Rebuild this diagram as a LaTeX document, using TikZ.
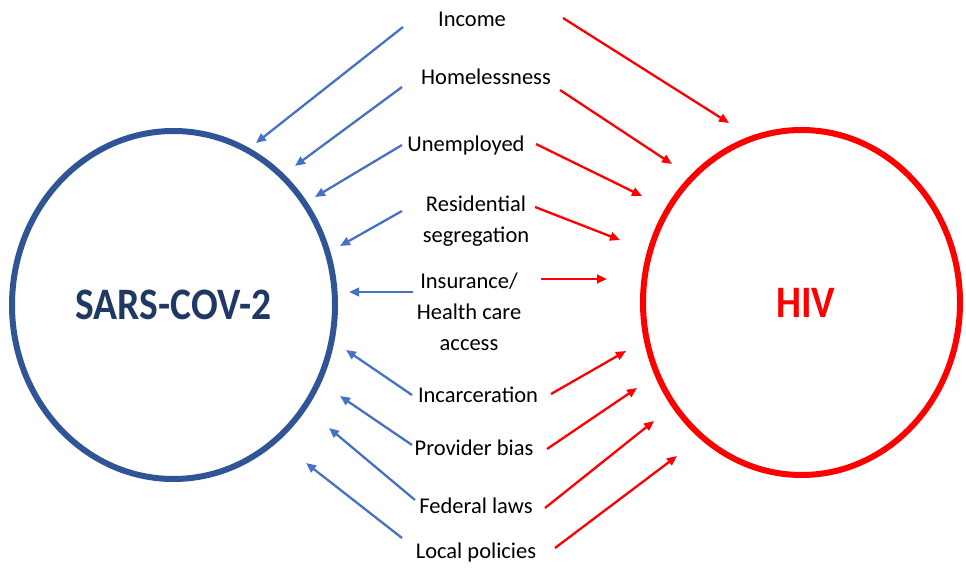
\documentclass[tikz,border=0pt]{standalone}
\usepackage{fontspec}
\setmainfont{Carlito}
\newfontfamily\bigfont[FakeStretch=0.88]{Carlito}
\usetikzlibrary{arrows.meta,shapes.geometric}
\definecolor{sarsblue}{HTML}{2F5597}
\definecolor{arrowblue}{HTML}{4472C4}
\definecolor{sarstext}{HTML}{203864}
\definecolor{hivred}{HTML}{FF0000}
\begin{document}
\begin{tikzpicture}[x=1pt,y=-1pt,
  lbl/.style={font=\fontsize{22.5}{31}\selectfont, align=center, inner sep=0pt, text=black},
  bigcircle/.style={ellipse, line width=6pt, inner sep=0pt},
  bluearr/.style={draw=arrowblue, line width=2.3pt, -{Triangle[length=10pt,width=8.5pt]}},
  redarr/.style={draw=hivred, line width=2.3pt, -{Triangle[length=10pt,width=8.5pt]}}
]
\useasboundingbox (0,0) rectangle (966,569);

% circles
\node[bigcircle, draw=sarsblue, minimum width=323pt, minimum height=348pt,
      text=sarstext, font=\bigfont\bfseries\fontsize{45}{50}\selectfont] (sars) at (173.5,305) {SARS-COV-2};
\node[bigcircle, draw=hivred, minimum width=317pt, minimum height=345pt] (hiv) at (801.5,302.5) {};
\node[text=hivred, font=\bigfont\bfseries\fontsize{45}{50}\selectfont, inner sep=0pt] (hivtext) at (805.5,303) {HIV};

% labels
\node[lbl, anchor=base] (income) at (472,27) {Income};
\node[lbl, anchor=base] (homeless) at (486,85) {Homelessness};
\node[lbl, anchor=base] (unemp) at (466,152) {Unemployed};
\node[lbl] (resid) at (476,221) {Residential\\segregation};
\node[lbl] (insur) at (469,312) {Insurance/\\Health care\\access};
\node[lbl, anchor=base] (incarc) at (478,402) {Incarceration};
\node[lbl, anchor=base] (provider) at (474,455) {Provider bias};
\node[lbl, anchor=base] (federal) at (476,513) {Federal laws};
\node[lbl, anchor=base] (local) at (476,558) {Local policies};

% blue arrow end points
\coordinate (b1s) at (403,27);  \coordinate (b1e) at (256,143);
\coordinate (b2s) at (402,87);  \coordinate (b2e) at (295,166);
\coordinate (b3s) at (402,145); \coordinate (b3e) at (315,197);
\coordinate (b4s) at (402,211); \coordinate (b4e) at (340,246);
\coordinate (b5s) at (413,292); \coordinate (b5e) at (349,292);
\coordinate (b6s) at (412,395); \coordinate (b6e) at (346,350);
\coordinate (b7s) at (412,445); \coordinate (b7e) at (340,396);
\coordinate (b8s) at (415,500); \coordinate (b8e) at (329,428);
\coordinate (b9s) at (402,538); \coordinate (b9e) at (306,463);

% red arrow end points
\coordinate (r1s) at (563,18);  \coordinate (r1e) at (729,123);
\coordinate (r2s) at (560,90);  \coordinate (r2e) at (672,164);
\coordinate (r3s) at (536,144); \coordinate (r3e) at (642,196);
\coordinate (r4s) at (535,207); \coordinate (r4e) at (620,240);
\coordinate (r5s) at (541,279); \coordinate (r5e) at (607,279);
\coordinate (r6s) at (551,394); \coordinate (r6e) at (626,351);
\coordinate (r7s) at (547,449); \coordinate (r7e) at (637,388);
\coordinate (r8s) at (545,508); \coordinate (r8e) at (654,421);
\coordinate (r9s) at (555,548); \coordinate (r9e) at (677,456);

\foreach \i in {1,...,9} {
  \draw[bluearr] (b\i s) -- (b\i e);
  \draw[redarr] (r\i s) -- (r\i e);
}
\end{tikzpicture}
\end{document}
